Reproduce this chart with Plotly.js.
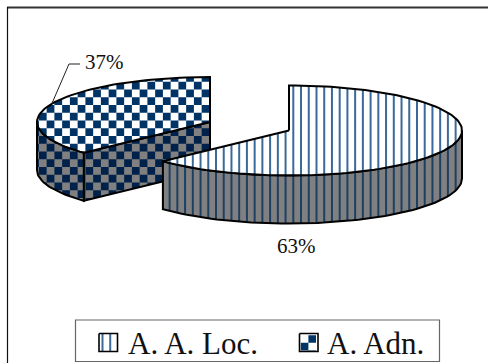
<!DOCTYPE html>
<html>
<head>
<meta charset="utf-8">
<script src="https://cdn.plot.ly/plotly-3.0.1.min.js"></script>
<style>html,body{margin:0;padding:0;background:#fff}#chart{width:488px;height:363px}</style>
</head>
<body>
<div id="chart"></div>
<script>
// Shares of the two categories, in percent, clockwise from twelve o'clock.
const categories = ['A. A. Loc.', 'A. Adn.'];
const shares = [63, 37];

// Pie projection, in plot units.
const RX = 173, RY = 45, DEPTH = 48;
const CENTER = {x: 289, y: 130.5};
const PULLED = {x: 210, y: 122};
const CELL = 7.75, STRIPE = 7.73, STRIPE_W = 2;

const split = shares[0] / 100 * 360;

function rimPoint(c, deg, drop) {
  const t = deg * Math.PI / 180;
  return [c.x + RX * Math.sin(t), c.y - RY * Math.cos(t) + (drop || 0)];
}
function arc(c, from, to, drop) {
  const pts = [], n = Math.max(2, Math.round(Math.abs(to - from) / 2));
  for (let i = 0; i <= n; i++) pts.push(rimPoint(c, from + (to - from) * i / n, drop));
  return pts;
}

// Clip a polygon to an axis-aligned rectangle.
function clipRect(poly, x0, x1, y0, y1) {
  const edges = [
    [p => p[0] >= x0, (a, b) => { const k = (x0 - a[0]) / (b[0] - a[0]); return [x0, a[1] + k * (b[1] - a[1])]; }],
    [p => p[0] <= x1, (a, b) => { const k = (x1 - a[0]) / (b[0] - a[0]); return [x1, a[1] + k * (b[1] - a[1])]; }],
    [p => p[1] >= y0, (a, b) => { const k = (y0 - a[1]) / (b[1] - a[1]); return [a[0] + k * (b[0] - a[0]), y0]; }],
    [p => p[1] <= y1, (a, b) => { const k = (y1 - a[1]) / (b[1] - a[1]); return [a[0] + k * (b[0] - a[0]), y1]; }]
  ];
  let out = poly;
  for (const [inside, cross] of edges) {
    const src = out; out = [];
    for (let i = 0; i < src.length; i++) {
      const a = src[i], b = src[(i + 1) % src.length];
      if (inside(a)) { out.push(a); if (!inside(b)) out.push(cross(a, b)); }
      else if (inside(b)) out.push(cross(a, b));
    }
    if (!out.length) break;
  }
  return out;
}

function bounds(poly) {
  const xs = poly.map(p => p[0]), ys = poly.map(p => p[1]);
  return {x0: Math.min(...xs), x1: Math.max(...xs), y0: Math.min(...ys), y1: Math.max(...ys)};
}

function cellsTrace(rects, poly, color) {
  const x = [], y = [];
  for (const r of rects) {
    const part = clipRect(poly, r[0], r[1], r[2], r[3]);
    if (part.length < 3) continue;
    part.forEach(p => { x.push(p[0]); y.push(p[1]); });
    x.push(part[0][0]); y.push(part[0][1]);
    x.push(null); y.push(null);
  }
  return {type: 'scatter', mode: 'none', x, y, fill: 'toself', fillcolor: color, hoverinfo: 'skip'};
}

function stripeRects(poly, originX) {
  const b = bounds(poly), rects = [];
  for (let k = Math.floor((b.x0 - originX) / STRIPE); originX + k * STRIPE < b.x1; k++) {
    const c = originX + k * STRIPE;
    rects.push([c - STRIPE_W / 2, c + STRIPE_W / 2, b.y0, b.y1]);
  }
  return rects;
}
function checkerRects(poly, originX, originY, size) {
  const b = bounds(poly), rects = [], s = size || CELL;
  const i0 = Math.floor((b.x0 - originX) / s), j0 = Math.floor((b.y0 - originY) / s);
  for (let i = i0; originX + i * s < b.x1; i++)
    for (let j = j0; originY + j * s < b.y1; j++)
      if ((i + j) % 2 === 0) rects.push([originX + i * s, originX + (i + 1) * s, originY + j * s, originY + (j + 1) * s]);
  return rects;
}

function face(poly, base, rects, ink, lineWidth) {
  const closed = poly.concat([poly[0]]);
  const xs = closed.map(p => p[0]), ys = closed.map(p => p[1]);
  return [
    {type: 'scatter', mode: 'none', x: xs, y: ys, fill: 'toself', fillcolor: base, hoverinfo: 'skip'},
    cellsTrace(rects, poly, ink),
    {type: 'scatter', mode: 'lines', x: xs, y: ys, line: {color: '#000', width: lineWidth || 2, shape: 'linear'}, hoverinfo: 'skip'}
  ];
}

const NAVY = '#003366', NAVY_DARK = '#00224a', GREY = '#808080';
const STRIPE_TOP = '#3a6a99', STRIPE_WALL = '#1d3f63';
const STRIPE_X = 293.3, CHECK_X = 147.4, CHECK_Y = 81.7, WALL_CHECK_Y = CHECK_Y + CELL;

// Pulled-out slice: outer wall, cut wall, then its top.
const pTip = rimPoint(PULLED, split);
const pOuter = arc(PULLED, split, 270).concat(arc(PULLED, 270, split, DEPTH));
const pCut = [[PULLED.x, PULLED.y], pTip, [pTip[0], pTip[1] + DEPTH], [PULLED.x, PULLED.y + DEPTH]];
const pTop = [[PULLED.x, PULLED.y]].concat(arc(PULLED, split, 360));

// Main slice: outer wall, then its top.
const mWall = arc(CENTER, 90, split).concat(arc(CENTER, split, 90, DEPTH));
const mTop = [[CENTER.x, CENTER.y]].concat(arc(CENTER, 0, split));

// Legend swatches: stripes, and a two-by-two check with navy top right and bottom left.
const SW1 = [[99, 333.5], [117.5, 333.5], [117.5, 351.5], [99, 351.5]];
const SW2 = [[299.5, 333.5], [318, 333.5], [318, 351.5], [299.5, 351.5]];
const sw2Cells = checkerRects(SW2, 293.2, 335.2, 7.6).filter(r => r[0] >= 300 && r[1] <= 317 && r[2] >= 334);

const traces = [].concat(
  face(pOuter, GREY, checkerRects(pOuter, CHECK_X, WALL_CHECK_Y), NAVY_DARK),
  face(pCut, GREY, checkerRects(pCut, CHECK_X, WALL_CHECK_Y), NAVY_DARK),
  face(pTop, '#ffffff', checkerRects(pTop, CHECK_X, CHECK_Y), NAVY),
  face(mWall, GREY, stripeRects(mWall, STRIPE_X), STRIPE_WALL),
  face(mTop, '#ffffff', stripeRects(mTop, STRIPE_X), STRIPE_TOP),
  face(SW1, '#ffffff', stripeRects(SW1, 102.5), STRIPE_TOP, 1.6),
  face(SW2, '#ffffff', sw2Cells, NAVY, 1.6),
  [{type: 'scatter', mode: 'lines', x: [51.7, 69, 80], y: [104, 64, 64], line: {color: '#222', width: 1}, hoverinfo: 'skip'}]
);

const serif = '"Liberation Serif", "Times New Roman", serif';
const layout = {
  width: 488, height: 363,
  margin: {l: 0, r: 0, t: 0, b: 0},
  paper_bgcolor: '#fff', plot_bgcolor: '#fff',
  showlegend: false,
  xaxis: {range: [0, 488], visible: false, fixedrange: true},
  yaxis: {range: [363, 0], visible: false, fixedrange: true},
  shapes: [
    {type: 'line', xref: 'x', yref: 'y', x0: 7, x1: 488, y0: 7.5, y1: 7.5, line: {color: '#333', width: 2}},
    {type: 'line', xref: 'x', yref: 'y', x0: 7.5, x1: 7.5, y0: 7, y1: 363, line: {color: '#111', width: 1.2}},
    {type: 'rect', xref: 'x', yref: 'y', x0: 75.5, x1: 439.5, y0: 320, y1: 361.5, line: {color: '#666', width: 1.2}}
  ],
  annotations: [
    {x: 104, y: 62, text: shares[1] + '%', size: 21},
    {x: 296, y: 245.5, text: shares[0] + '%', size: 21},
    {x: 193, y: 343, text: categories[0], size: 31},
    {x: 375.5, y: 343, text: categories[1], size: 31}
  ].map(a => ({
    x: a.x, y: a.y, xref: 'x', yref: 'y', text: a.text, showarrow: false,
    xanchor: 'center', yanchor: 'middle', font: {family: serif, size: a.size, color: '#111'}
  }))
};

Plotly.newPlot('chart', traces, layout, {displayModeBar: false, staticPlot: true});
</script>
</body>
</html>
